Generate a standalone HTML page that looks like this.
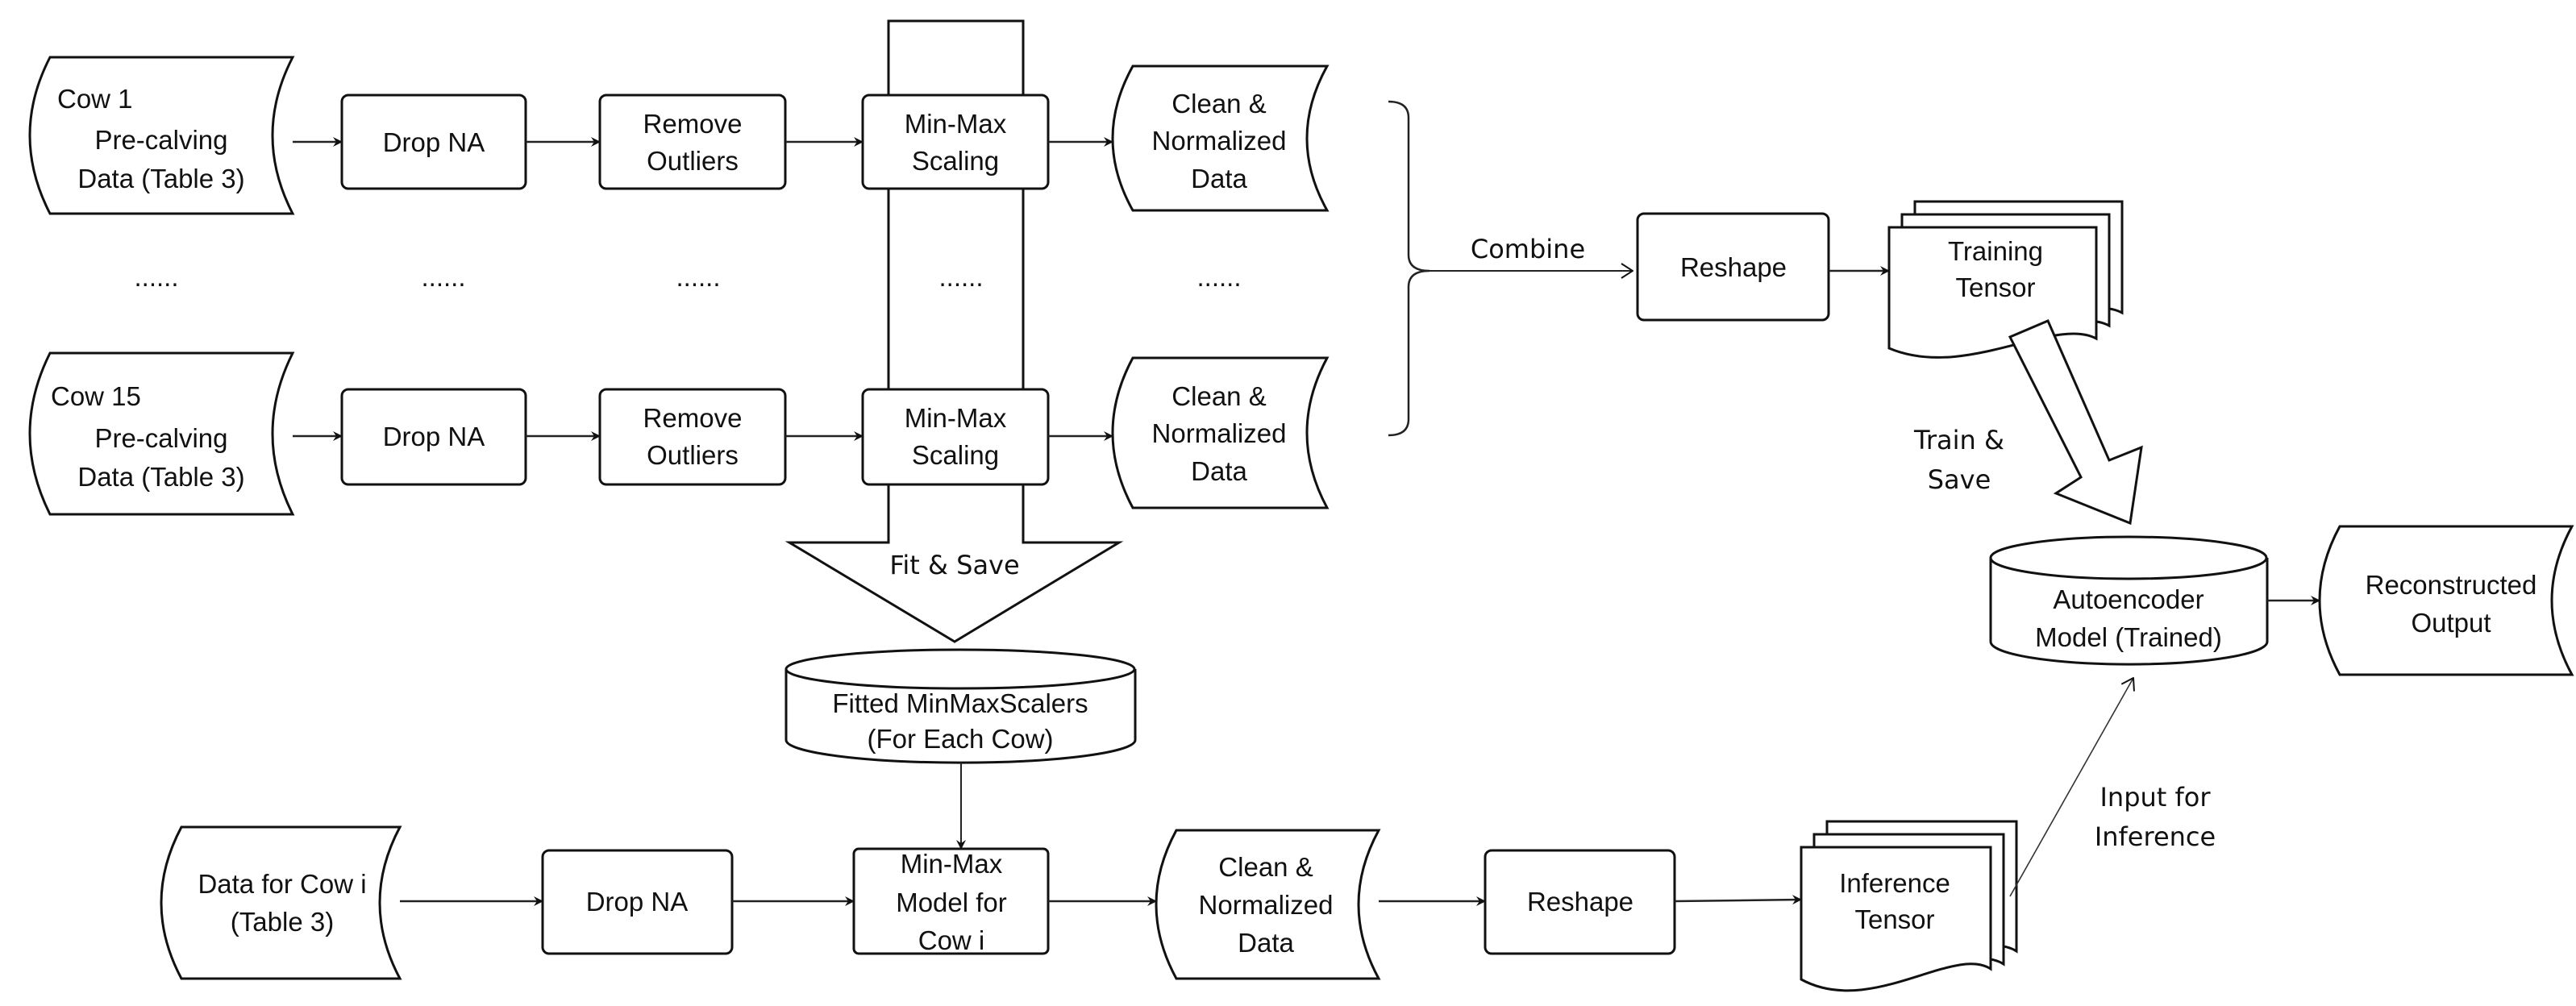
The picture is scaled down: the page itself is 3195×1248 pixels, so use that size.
<!DOCTYPE html>
<html><head><meta charset="utf-8"><style>
html,body{margin:0;padding:0;background:#fff;}
svg{display:block;}
text{font-family:"Liberation Sans",Arial,sans-serif;font-size:33px;fill:#111;text-anchor:middle;}
.o{font-family:"DejaVu Sans","Liberation Sans",sans-serif;font-size:32px;}
.s{fill:#fff;stroke:#111;stroke-width:3;}
.l{stroke:#222;stroke-width:2.5;fill:none;}
</style></head><body>
<svg width="3195" height="1248" viewBox="0 0 3195 1248" xmlns="http://www.w3.org/2000/svg">
<defs>
<marker id="a" markerWidth="12" markerHeight="12" refX="11" refY="6" orient="auto" markerUnits="userSpaceOnUse"><path d="M0,0 L12,6 L0,12 L4,6 Z" fill="#111"/></marker>
<marker id="b" markerWidth="16" markerHeight="20" refX="15" refY="10" orient="auto" markerUnits="userSpaceOnUse"><path d="M1,1 L15,10 L1,19" fill="none" stroke="#111" stroke-width="2"/></marker>
</defs>

<polygon class="s" points="1102,26 1269,26 1269,673 1388,673 1184,796 979,673 1102,673"/>
<text class="o" x="1184" y="712">Fit &amp; Save</text>

<path class="s" d="M62,71 H363 Q313,168 363,265 H62 Q12,168 62,71 Z"/>
<text x="71" y="134" style="text-anchor:start">Cow 1</text>
<text x="200" y="185">Pre-calving</text>
<text x="200" y="233">Data (Table 3)</text>
<rect class="s" x="424" y="118" width="228" height="116" rx="8"/>
<text x="538" y="188">Drop NA</text>
<rect class="s" x="744" y="118" width="230" height="116" rx="8"/>
<text x="859" y="165">Remove</text><text x="859" y="211">Outliers</text>
<rect class="s" x="1070" y="118" width="230" height="116" rx="8"/>
<text x="1185" y="165">Min-Max</text><text x="1185" y="211">Scaling</text>
<path class="s" d="M1405,82 H1646 Q1596,172 1646,261 H1405 Q1355,172 1405,82 Z"/>
<text x="1512" y="140">Clean &amp;</text><text x="1512" y="186">Normalized</text><text x="1512" y="233">Data</text>
<line class="l" x1="363" y1="176" x2="424" y2="176" marker-end="url(#a)"/>
<line class="l" x1="652" y1="176" x2="744" y2="176" marker-end="url(#a)"/>
<line class="l" x1="974" y1="176" x2="1070" y2="176" marker-end="url(#a)"/>
<line class="l" x1="1300" y1="176" x2="1380" y2="176" marker-end="url(#a)"/>

<text x="194" y="355">......</text><text x="550" y="355">......</text><text x="866" y="355">......</text><text x="1192" y="355">......</text><text x="1512" y="355">......</text>

<path class="s" d="M62,438 H363 Q313,538 363,638 H62 Q12,538 62,438 Z"/>
<text x="63" y="503" style="text-anchor:start">Cow 15</text>
<text x="200" y="555">Pre-calving</text>
<text x="200" y="603">Data (Table 3)</text>
<rect class="s" x="424" y="483" width="228" height="118" rx="8"/>
<text x="538" y="553">Drop NA</text>
<rect class="s" x="744" y="483" width="230" height="118" rx="8"/>
<text x="859" y="530">Remove</text><text x="859" y="576">Outliers</text>
<rect class="s" x="1070" y="483" width="230" height="118" rx="8"/>
<text x="1185" y="530">Min-Max</text><text x="1185" y="576">Scaling</text>
<path class="s" d="M1405,444 H1646 Q1596,537 1646,630 H1405 Q1355,537 1405,444 Z"/>
<text x="1512" y="503">Clean &amp;</text><text x="1512" y="549">Normalized</text><text x="1512" y="596">Data</text>
<line class="l" x1="363" y1="541" x2="424" y2="541" marker-end="url(#a)"/>
<line class="l" x1="652" y1="541" x2="744" y2="541" marker-end="url(#a)"/>
<line class="l" x1="974" y1="541" x2="1070" y2="541" marker-end="url(#a)"/>
<line class="l" x1="1300" y1="541" x2="1380" y2="541" marker-end="url(#a)"/>

<path class="l" d="M1722,126 Q1747,126 1747,146 V316 Q1747,336 1773,336 Q1747,336 1747,356 V520 Q1747,540 1722,540"/>
<line x1="1773" y1="336" x2="2025" y2="336" stroke="#222" stroke-width="2" marker-end="url(#b)"/>
<text class="o" x="1895" y="320">Combine</text>

<rect class="s" x="2031" y="265" width="237" height="132" rx="8"/>
<text x="2150" y="343">Reshape</text>
<line class="l" x1="2268" y1="336" x2="2343" y2="336" marker-end="url(#a)"/>

<path class="s" d="M2375,250 H2632 V388 C2580,360 2470,440 2375,400 Z"/>
<path class="s" d="M2359,266 H2616 V404 C2564,376 2454,456 2359,416 Z"/>
<path class="s" d="M2343,282 H2600 V420 C2548,392 2438,472 2343,432 Z"/>
<text x="2475" y="323">Training</text><text x="2475" y="368">Tensor</text>

<polygon class="s" points="2493,418 2540,398 2616,571 2656,555 2642,649 2550,612 2581,592"/>
<text class="o" x="2430" y="557">Train &amp;</text>
<text class="o" x="2430" y="606">Save</text>

<path class="s" d="M2469,692 V796 A171,28 0 0 0 2812,796 V692"/>
<ellipse class="s" cx="2640" cy="692" rx="171" ry="26"/>
<text x="2640" y="755">Autoencoder</text><text x="2640" y="802">Model (Trained)</text>
<line class="l" x1="2812" y1="745" x2="2877" y2="745" marker-end="url(#a)"/>
<path class="s" d="M2902,653 H3190 Q3140,745 3190,837 H2902 Q2852,745 2902,653 Z"/>
<text x="3040" y="737">Reconstructed</text><text x="3040" y="784">Output</text>

<path class="s" d="M975,830 V918 A216,28 0 0 0 1408,918 V830"/>
<ellipse class="s" cx="1191" cy="830" rx="216" ry="24"/>
<text x="1191" y="884">Fitted MinMaxScalers</text><text x="1191" y="928">(For Each Cow)</text>
<line x1="1192" y1="946" x2="1192" y2="1053" stroke="#222" stroke-width="2" marker-end="url(#a)"/>

<path class="s" d="M225,1026 H496 Q446,1120 496,1214 H225 Q175,1120 225,1026 Z"/>
<text x="350" y="1108">Data for Cow i</text><text x="350" y="1155">(Table 3)</text>
<rect class="s" x="673" y="1055" width="235" height="128" rx="8"/>
<text x="790" y="1130">Drop NA</text>
<rect class="s" x="1059" y="1053" width="241" height="130" rx="6"/>
<text x="1180" y="1083">Min-Max</text><text x="1180" y="1131">Model for</text><text x="1180" y="1178">Cow i</text>
<path class="s" d="M1459,1030 H1710 Q1660,1122 1710,1214 H1459 Q1409,1122 1459,1030 Z"/>
<text x="1570" y="1087">Clean &amp;</text><text x="1570" y="1134">Normalized</text><text x="1570" y="1181">Data</text>
<rect class="s" x="1842" y="1055" width="235" height="128" rx="8"/>
<text x="1960" y="1130">Reshape</text>
<line class="l" x1="496" y1="1118" x2="673" y2="1118" marker-end="url(#a)"/>
<line class="l" x1="908" y1="1118" x2="1059" y2="1118" marker-end="url(#a)"/>
<line class="l" x1="1300" y1="1118" x2="1434" y2="1118" marker-end="url(#a)"/>
<line class="l" x1="1710" y1="1118" x2="1842" y2="1118" marker-end="url(#a)"/>
<line class="l" x1="2077" y1="1118" x2="2234" y2="1116" marker-end="url(#a)"/>

<path class="s" d="M2266,1019 H2501 V1180 C2455,1150 2340,1230 2266,1190 Z"/>
<path class="s" d="M2250,1035 H2485 V1196 C2439,1166 2324,1246 2250,1206 Z"/>
<path class="s" d="M2234,1051 H2469 V1202 C2423,1172 2320,1262 2234,1215 Z"/>
<text x="2350" y="1107">Inference</text><text x="2350" y="1152">Tensor</text>

<line x1="2493" y1="1112" x2="2646" y2="841" stroke="#333" stroke-width="1.6" marker-end="url(#b)"/>
<text class="o" x="2673" y="1000">Input for</text>
<text class="o" x="2673" y="1049">Inference</text>
</svg>
</body></html>
